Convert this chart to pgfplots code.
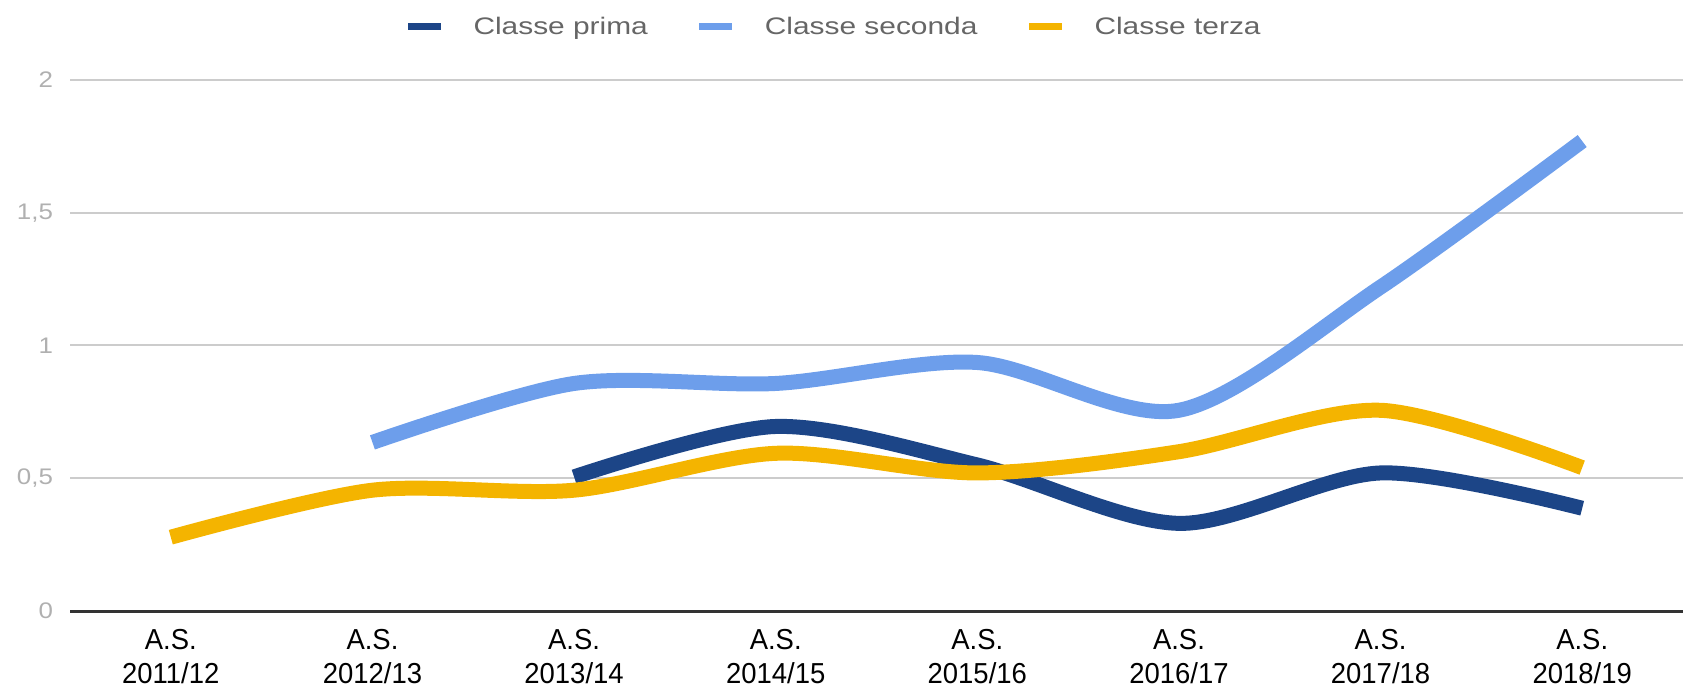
\documentclass[border=0pt]{standalone}
\usepackage{fontspec}
\setmainfont{Liberation Sans}[FakeStretch=0.95]
\newfontfamily\legfont{Liberation Sans}[FakeStretch=1.25]
\newfontfamily\ytfont{Liberation Sans}[FakeStretch=1.15]
\usepackage{pgfplots}
\pgfplotsset{compat=1.18}
\definecolor{cprima}{HTML}{1C4587}
\definecolor{cseconda}{HTML}{6D9EEB}
\definecolor{cterza}{HTML}{F4B400}
\definecolor{gridc}{HTML}{CCCCCC}
\definecolor{ytc}{HTML}{B0B0B0}
\definecolor{legc}{HTML}{666666}
\definecolor{zeroc}{HTML}{333333}
\begin{document}
\begin{tikzpicture}
\begin{axis}[
  scale only axis,
  width=806.5bp, height=265.5bp,
  xmin=-0.5, xmax=7.5, ymin=0, ymax=2,
  axis line style={draw=none},
  xtick={0,...,7},
  xticklabels={{A.S.\\2011/12},{A.S.\\2012/13},{A.S.\\2013/14},{A.S.\\2014/15},{A.S.\\2015/16},{A.S.\\2016/17},{A.S.\\2017/18},{A.S.\\2018/19}},
  xticklabel style={align=center, font=\fontsize{14.5}{17}\selectfont, text=black, yshift=-5.5bp},
  ytick={0.5,1,1.5,2},
  extra y ticks={0},
  extra y tick style={major grid style={draw=zeroc, line width=1.5bp}},
  yticklabel style={font=\ytfont\fontsize{11.3}{13}\selectfont, text=ytc, xshift=-5bp},
  /pgf/number format/assume math mode=true,
  /pgf/number format/use comma,
  major tick length=0pt,
  tick style={draw=none},
  ymajorgrids,
  major grid style={color=gridc, line width=1bp},
  legend columns=3,
  legend style={draw=none, fill=none, at={(0.474,1.10)}, anchor=center,
    font=\legfont\fontsize{12}{14}\selectfont, text=legc,
    /tikz/every even column/.append style={column sep=22bp}},
  legend image code/.code={\draw[#1, line width=3.5bp] (0bp,0bp) -- (16.5bp,0bp); \path (27bp,0bp);},
  every axis plot/.append style={line width=7.5bp, smooth, tension=0.5},
]
\addplot[color=cprima] coordinates {(2,0.505) (3,0.695) (4,0.55) (5,0.33) (6,0.52) (7,0.387)};
\addlegendentry{Classe prima}
\addplot[color=cseconda] coordinates {(1,0.635) (2,0.857) (3,0.857) (4,0.936) (5,0.756) (6,1.22) (7,1.77)};
\addlegendentry{Classe seconda}
\addplot[color=cterza] coordinates {(0,0.278) (1,0.455) (2,0.455) (3,0.594) (4,0.52) (5,0.60) (6,0.756) (7,0.54)};
\addlegendentry{Classe terza}
\end{axis}
\pgfresetboundingbox
\path[use as bounding box] ([shift={(-35bp,-40bp)}]current axis.south west) rectangle ([shift={(0bp,40bp)}]current axis.north east);
\end{tikzpicture}
\end{document}
